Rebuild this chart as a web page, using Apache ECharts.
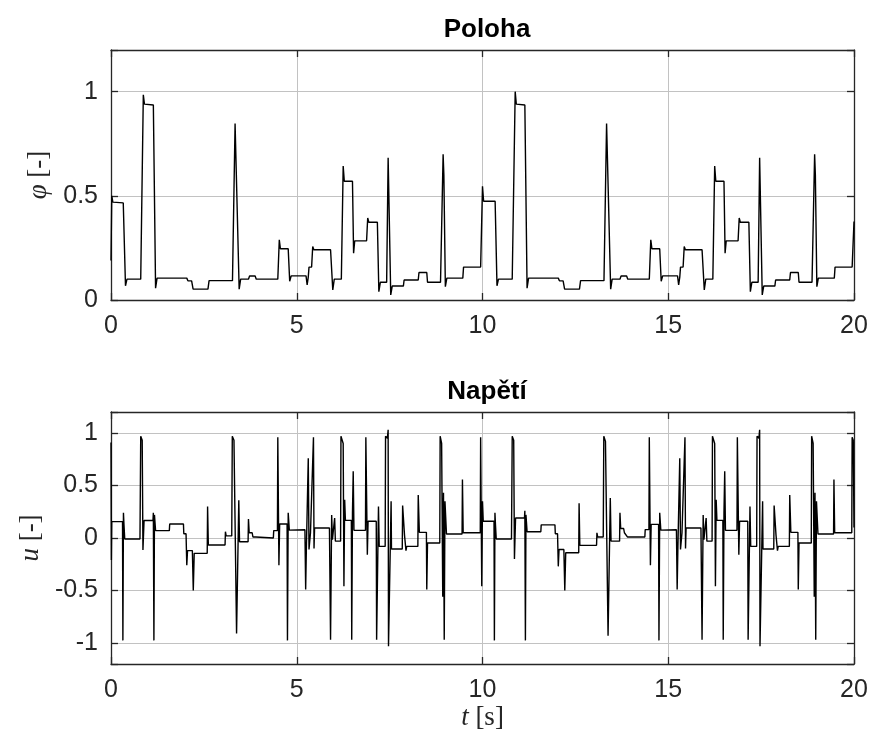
<!DOCTYPE html>
<html>
<head>
<meta charset="utf-8">
<script src="https://cdn.jsdelivr.net/npm/echarts@6/dist/echarts.min.js"></script>
<style>
html,body{margin:0;padding:0;background:#fff;}
#chart{width:871px;height:740px;}
</style>
</head>
<body>
<div id="chart"></div>
<script>
// ---- data (time [s], value) ----
const xTicks = [0, 5, 10, 15, 20];
const phiTicks = [0, 0.5, 1];
const uTicks = [-1, -0.5, 0, 0.5, 1];
const titles = ['Poloha', 'Napětí'];

const phiPeriod1 = [
[0.00,0.19],[0.02,0.50],[0.05,0.47],[0.33,0.466],[0.39,0.068],[0.43,0.10],[0.80,0.10],[0.87,0.985],[0.90,0.94],[1.14,0.936],[1.20,0.057],[1.24,0.105],[2.04,0.105],[2.07,0.092],[2.17,0.092],[2.21,0.052],[2.61,0.052],[2.64,0.093],[3.27,0.093],[3.34,0.847],[3.45,0.052],[3.49,0.10],[3.70,0.10],[3.73,0.115],[3.88,0.115],[3.91,0.10],[4.49,0.10],[4.53,0.289],[4.56,0.246],[4.77,0.246],[4.81,0.09],[4.85,0.116],[5.25,0.116],[5.28,0.072],[5.31,0.11],[5.33,0.158],[5.40,0.158],[5.43,0.257],[5.46,0.241],[5.91,0.241],[5.97,0.048],[6.01,0.10],[6.20,0.10],[6.25,0.643],[6.28,0.57],[6.50,0.57],[6.53,0.225],[6.56,0.284],[6.88,0.284],[6.91,0.394],[6.94,0.373],[7.17,0.373],[7.21,0.04],[7.25,0.085],[7.42,0.085],[7.46,0.683],[7.53,0.024],[7.57,0.067],[7.87,0.067],[7.89,0.096],[8.27,0.096],[8.29,0.132],[8.50,0.132],[8.52,0.085],[8.87,0.085],[8.94,0.699],[8.96,0.60],[9.00,0.064],[9.04,0.105],[9.47,0.105],[9.49,0.158],[9.95,0.158]
];
const phiPeriod2 = [
[10.00,0.546],[10.03,0.474],[10.34,0.474],[10.39,0.068],[10.43,0.10],[10.80,0.10],[10.88,1.0],[10.91,0.94],[11.14,0.936],[11.20,0.057],[11.24,0.105],[12.04,0.105],[12.07,0.092],[12.17,0.092],[12.21,0.052],[12.61,0.052],[12.64,0.093],[13.27,0.093],[13.34,0.847],[13.45,0.052],[13.49,0.10],[13.70,0.10],[13.73,0.115],[13.88,0.115],[13.91,0.10],[14.49,0.10],[14.53,0.289],[14.56,0.246],[14.77,0.246],[14.81,0.09],[14.85,0.116],[15.25,0.116],[15.28,0.072],[15.31,0.11],[15.33,0.158],[15.40,0.158],[15.43,0.257],[15.46,0.241],[15.91,0.241],[15.97,0.048],[16.01,0.10],[16.20,0.10],[16.25,0.643],[16.28,0.57],[16.50,0.57],[16.53,0.225],[16.56,0.284],[16.88,0.284],[16.91,0.394],[16.94,0.373],[17.17,0.373],[17.21,0.04],[17.25,0.085],[17.42,0.085],[17.46,0.683],[17.53,0.024],[17.57,0.067],[17.87,0.067],[17.89,0.096],[18.27,0.096],[18.29,0.132],[18.50,0.132],[18.52,0.085],[18.87,0.085],[18.94,0.699],[18.96,0.60],[19.00,0.064],[19.04,0.105],[19.47,0.105],[19.49,0.158],[19.95,0.158],[20.00,0.377]
];

const uPeriod1 = [
[0.00,0.91],[0.01,-0.21],[0.02,0.156],[0.31,0.156],[0.32,-0.975],[0.335,0.24],[0.35,0.12],[0.37,-0.01],[0.78,-0.01],[0.80,0.97],[0.84,0.93],[0.86,-0.115],[0.89,0.166],[1.13,0.166],[1.14,0.24],[1.155,-0.975],[1.17,0.22],[1.20,0.07],[1.57,0.07],[1.58,0.134],[1.95,0.134],[1.96,0.04],[2.02,0.04],[2.04,-0.26],[2.06,-0.12],[2.19,-0.12],[2.215,-0.50],[2.24,-0.146],[2.59,-0.146],[2.60,0.30],[2.62,-0.067],[3.07,-0.067],[3.08,0.06],[3.10,0.02],[3.25,0.02],[3.265,0.97],[3.31,0.93],[3.38,-0.91],[3.44,0.36],[3.46,-0.035],[3.69,-0.035],[3.70,0.18],[3.72,0.05],[3.80,0.05],[3.82,0.01],[3.90,0.01],[3.92,0.0],[4.37,0.0],[4.38,0.07],[4.48,0.07],[4.49,0.96],[4.52,-0.26],[4.54,0.134],[4.74,0.134],[4.75,-0.975],[4.77,0.24],[4.80,0.075],[5.22,0.079],[5.24,-0.49],[5.26,-0.08],[5.31,0.76],[5.33,-0.11],[5.37,0.05],[5.45,0.96],[5.465,-0.10],[5.48,0.095],[5.88,0.095],[5.91,-0.97],[5.94,0.22],[5.96,-0.016],[6.02,0.19],[6.04,-0.03],[6.18,-0.03],[6.19,0.97],[6.25,0.90],[6.27,-0.46],[6.29,0.365],[6.31,0.168],[6.47,0.168],[6.48,-0.97],[6.50,0.24],[6.52,0.635],[6.54,0.073],[6.85,0.073],[6.86,0.96],[6.90,-0.16],[6.92,0.16],[7.14,0.16],[7.15,-0.97],[7.20,0.30],[7.22,-0.08],[7.38,-0.08],[7.39,0.97],[7.44,0.95],[7.46,1.03],[7.47,-1.03],[7.54,0.35],[7.55,-0.105],[7.84,-0.105],[7.85,0.31],[7.90,0.03],[7.94,-0.12],[7.96,-0.08],[8.26,-0.08],[8.27,0.41],[8.30,0.054],[8.49,0.054],[8.50,-0.49],[8.52,-0.048],[8.85,-0.048],[8.86,0.97],[8.90,0.90],[8.93,-0.56],[8.95,0.43],[8.97,-0.97],[8.99,0.35],[9.03,0.038],[9.45,0.038],[9.46,0.556],[9.48,0.05],[9.94,0.05],[9.95,0.96],[9.98,-0.46]
];
const uPeriod2 = [
[10.00,0.35],[10.02,0.16],[10.31,0.16],[10.32,-0.975],[10.335,0.24],[10.35,0.12],[10.37,-0.01],[10.78,-0.01],[10.80,0.97],[10.84,0.93],[10.86,-0.20],[10.89,0.19],[11.13,0.19],[11.14,0.26],[11.155,-0.975],[11.17,0.22],[11.20,0.06],[11.57,0.06],[11.58,0.125],[11.95,0.125],[11.96,0.04],[12.02,0.04],[12.04,-0.27],[12.06,-0.11],[12.19,-0.11],[12.215,-0.50],[12.24,-0.14],[12.59,-0.14],[12.60,0.33],[12.62,-0.07],[13.07,-0.07],[13.08,0.05],[13.10,0.01],[13.25,0.01],[13.265,0.97],[13.31,0.92],[13.38,-0.93],[13.44,0.38],[13.46,-0.03],[13.69,-0.03],[13.70,0.24],[13.72,0.09],[13.80,0.09],[13.82,0.05],[13.90,0.01],[13.92,0.01],[14.37,0.01],[14.38,0.08],[14.48,0.08],[14.49,0.96],[14.52,-0.26],[14.54,0.13],[14.74,0.13],[14.75,-0.975],[14.77,0.24],[14.80,0.075],[15.22,0.079],[15.24,-0.49],[15.26,-0.08],[15.31,0.76],[15.33,-0.11],[15.37,0.05],[15.45,0.96],[15.465,-0.10],[15.48,0.095],[15.88,0.095],[15.91,-0.97],[15.94,0.22],[15.96,-0.016],[16.02,0.19],[16.04,-0.03],[16.18,-0.03],[16.19,0.97],[16.25,0.90],[16.27,-0.46],[16.29,0.365],[16.31,0.168],[16.47,0.168],[16.48,-0.97],[16.50,0.24],[16.52,0.635],[16.54,0.073],[16.85,0.073],[16.86,0.96],[16.90,-0.16],[16.92,0.16],[17.14,0.16],[17.15,-0.97],[17.20,0.30],[17.22,-0.08],[17.38,-0.08],[17.39,0.97],[17.44,0.95],[17.46,1.03],[17.47,-1.03],[17.54,0.35],[17.55,-0.105],[17.84,-0.105],[17.85,0.31],[17.90,0.03],[17.94,-0.12],[17.96,-0.08],[18.26,-0.08],[18.27,0.41],[18.30,0.054],[18.49,0.054],[18.50,-0.49],[18.52,-0.048],[18.85,-0.048],[18.86,0.97],[18.90,0.90],[18.93,-0.56],[18.95,0.43],[18.97,-0.97],[18.99,0.35],[19.03,0.038],[19.45,0.038],[19.46,0.556],[19.48,0.05],[19.94,0.05],[19.95,0.96],[19.98,0.93],[20.00,0.10]
];

const phiData = phiPeriod1.concat(phiPeriod2);
const uData = uPeriod1.concat(uPeriod2);

// ---- styling ----
const axisColor = '#262626';
const gridColor = '#c2c2c2';
const labelFont = 'Liberation Sans, Arial, Helvetica, sans-serif';
const serif = 'Liberation Serif, Times New Roman, serif';

function inList(list){
  return function(v){
    for (const t of list){ if (Math.abs(v - t) < 1e-6) return String(t); }
    return '';
  };
}

function xAxes(gi, withName){
  return [
    {
      type:'value', gridIndex:gi, position:'bottom', min:0, max:20, interval:5,
      axisLine:{show:true, onZero:false, lineStyle:{color:axisColor, width:1.3}},
      axisTick:{show:true, inside:true, length:7, lineStyle:{color:axisColor, width:1.3}},
      axisLabel:{show:true, color:axisColor, fontSize:25, fontFamily:labelFont, margin:14, formatter:inList(xTicks)},
      splitLine:{show:true, lineStyle:{color:gridColor, width:1}},
      name: withName ? '{i|t}{n| [s]}' : '',
      nameLocation:'middle', nameGap:40,
      nameTextStyle:{rich:{
        i:{fontFamily:serif, fontStyle:'italic', fontSize:27, color:axisColor},
        n:{fontFamily:serif, fontSize:27, color:axisColor}
      }}
    },
    {
      type:'value', gridIndex:gi, position:'top', min:0, max:20, interval:5,
      axisLine:{show:true, onZero:false, lineStyle:{color:axisColor, width:1.3}},
      axisTick:{show:true, inside:true, length:7, lineStyle:{color:axisColor, width:1.3}},
      axisLabel:{show:false}, splitLine:{show:false}
    }
  ];
}

function yAxes(gi, min, max, step, ticks, nameRich){
  return [
    {
      type:'value', gridIndex:gi, position:'left', min:min, max:max, splitNumber:step,
      axisLine:{show:true, onZero:false, lineStyle:{color:axisColor, width:1.3}},
      axisTick:{show:true, inside:true, length:7, lineStyle:{color:axisColor, width:1.3}},
      axisLabel:{show:true, color:axisColor, fontSize:25, fontFamily:labelFont, margin:13, formatter:inList(ticks)},
      splitLine:{show:true, lineStyle:{color:gridColor, width:1}},
      name:nameRich, nameLocation:'middle', nameGap:56, nameRotate:90,
      nameTextStyle:{rich:{
        i:{fontFamily:serif, fontStyle:'italic', fontSize:27, color:axisColor},
        n:{fontFamily:serif, fontSize:27, color:axisColor}
      }}
    },
    {
      type:'value', gridIndex:gi, position:'right', min:min, max:max, splitNumber:step,
      axisLine:{show:true, onZero:false, lineStyle:{color:axisColor, width:1.3}},
      axisTick:{show:true, inside:true, length:7, lineStyle:{color:axisColor, width:1.3}},
      axisLabel:{show:false}, splitLine:{show:false}
    }
  ];
}

const chart = echarts.init(document.getElementById('chart'), null, {renderer:'canvas'});
const top0 = yAxes(0, 0, 1.2, 2, phiTicks, '{i|φ}{n| [-]}');
top0[0].interval = 0.5; top0[1].interval = 0.5;
const option = {
  animation:false,
  backgroundColor:'#ffffff',
  title:[
    {text:titles[0], left:482, top:12, textAlign:'center',
     textStyle:{fontFamily:labelFont, fontWeight:'bold', fontSize:26, color:'#000'}},
    {text:titles[1], left:482, top:374, textAlign:'center',
     textStyle:{fontFamily:labelFont, fontWeight:'bold', fontSize:26, color:'#000'}}
  ],
  grid:[
    {left:111, top:50, width:743, height:250},
    {left:111, top:412, width:743, height:252}
  ],
  xAxis: xAxes(0,false).concat(xAxes(1,true)),
  yAxis: top0.concat(yAxes(1, -1.2, 1.2, 5, uTicks, '{i|u}{n| [-]}')),
  series:[
    {type:'line', xAxisIndex:0, yAxisIndex:0, data:phiData, showSymbol:false, symbol:'none',
     lineStyle:{color:'#000', width:1.4}, silent:true, z:5},
    {type:'line', xAxisIndex:2, yAxisIndex:2, data:uData, showSymbol:false, symbol:'none',
     lineStyle:{color:'#000', width:1.4}, silent:true, z:5}
  ]
};
chart.setOption(option);
</script>
</body>
</html>
